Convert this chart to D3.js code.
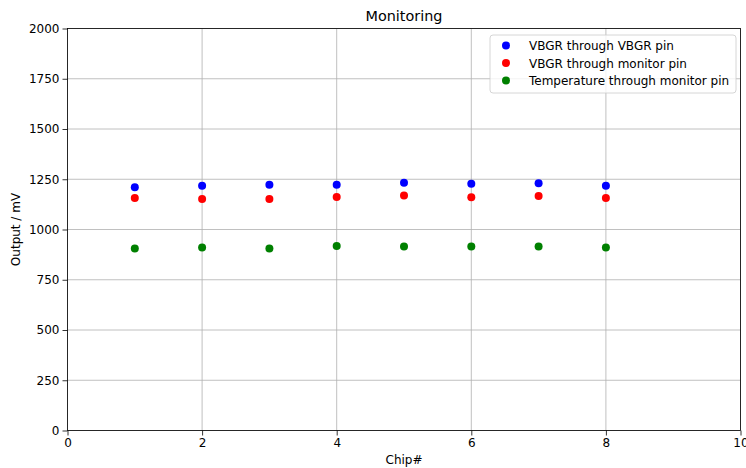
<!DOCTYPE html>
<html>
<head>
<meta charset="utf-8">
<script src="https://cdn.jsdelivr.net/npm/d3@7"></script>
<style>
body { margin: 0; background: #fff; }
svg { font-family: "DejaVu Sans", sans-serif; }
</style>
</head>
<body>
<script>
// данные
const chips = [1, 2, 3, 4, 5, 6, 7, 8];
const vbgr_pin = [1210, 1218, 1223, 1223, 1232, 1227, 1230, 1218];
const vbgr_monitor = [1157, 1152, 1152, 1162, 1169, 1160, 1167, 1157];
const temp_monitor = [905, 910, 905, 918, 915, 915, 915, 910];
const series_names = ["VBGR through VBGR pin", "VBGR through monitor pin", "Temperature through monitor pin"];
const series_colors = ["blue", "red", "green"];
const x_ticks = [0, 2, 4, 6, 8, 10];
const y_ticks = [0, 250, 500, 750, 1000, 1250, 1500, 1750, 2000];

const width = 746, height = 468;
// границы области графика (top занято window.top, поэтому plot_*)
const plot_left = 67.5, plot_right = 740.5, plot_top = 28.5, plot_bottom = 430.5;

var svg = d3.select("body").append("svg")
    .attr("width", width)
    .attr("height", height);

var x_scale = d3.scaleLinear().domain([0, 10]).range([plot_left, plot_right]);
var y_scale = d3.scaleLinear().domain([0, 2000]).range([plot_bottom, plot_top]);

// сетка
svg.append("g")
    .selectAll("line")
    .data(x_ticks)
    .enter()
    .append("line")
    .attr("x1", function(d) { return x_scale(d); })
    .attr("x2", function(d) { return x_scale(d); })
    .attr("y1", plot_top)
    .attr("y2", plot_bottom)
    .attr("stroke", "#b0b0b0")
    .attr("stroke-width", 0.8);
svg.append("g")
    .selectAll("line")
    .data(y_ticks)
    .enter()
    .append("line")
    .attr("x1", plot_left)
    .attr("x2", plot_right)
    .attr("y1", function(d) { return y_scale(d); })
    .attr("y2", function(d) { return y_scale(d); })
    .attr("stroke", "#b0b0b0")
    .attr("stroke-width", 0.8);

// точки
var all_series = [vbgr_pin, vbgr_monitor, temp_monitor];
all_series.forEach(function(values, i) {
    svg.append("g")
        .selectAll("circle")
        .data(values)
        .enter()
        .append("circle")
        .attr("cx", function(d, j) { return x_scale(chips[j]); })
        .attr("cy", function(d) { return y_scale(d); })
        .attr("r", 4)
        .attr("fill", series_colors[i]);
});

// оси
var x_axis = svg.append("g")
    .attr("transform", "translate(0," + plot_bottom + ")")
    .call(d3.axisBottom(x_scale).tickValues(x_ticks).tickFormat(d3.format("d")).tickSize(5).tickPadding(3));
var y_axis = svg.append("g")
    .attr("transform", "translate(" + plot_left + ",0)")
    .call(d3.axisLeft(y_scale).tickValues(y_ticks).tickFormat(d3.format("d")).tickSize(5).tickPadding(3));
[x_axis, y_axis].forEach(function(ax) {
    ax.selectAll("text").attr("font-size", 12).attr("fill", "#000").attr("font-family", "DejaVu Sans");
    ax.selectAll("line").attr("stroke", "#000").attr("stroke-width", 0.8);
    ax.select(".domain").remove();
});

// рамка
svg.append("rect")
    .attr("x", plot_left)
    .attr("y", plot_top)
    .attr("width", plot_right - plot_left)
    .attr("height", plot_bottom - plot_top)
    .attr("fill", "none")
    .attr("stroke", "#000")
    .attr("stroke-width", 0.8);

svg.append("text")
    .attr("x", (plot_left + plot_right) / 2)
    .attr("y", 21)
    .attr("text-anchor", "middle")
    .attr("font-size", 14.4)
    .text("Monitoring");
svg.append("text")
    .attr("x", (plot_left + plot_right) / 2)
    .attr("y", 464)
    .attr("text-anchor", "middle")
    .attr("font-size", 12)
    .text("Chip#");
svg.append("text")
    .attr("transform", "translate(20," + ((plot_top + plot_bottom) / 2) + ") rotate(-90)")
    .attr("text-anchor", "middle")
    .attr("font-size", 12)
    .text("Output / mV");

// легенда
var legend = svg.append("g").attr("transform", "translate(490,35)");
legend.append("rect")
    .attr("width", 246)
    .attr("height", 58)
    .attr("rx", 3)
    .attr("fill", "#fff")
    .attr("fill-opacity", 0.8)
    .attr("stroke", "#ccc")
    .attr("stroke-width", 0.8);
var rows = legend.selectAll("g.row")
    .data(series_names)
    .enter()
    .append("g")
    .attr("class", "row")
    .attr("transform", function(d, i) { return "translate(0," + (10.5 + i * 17.5) + ")"; });
rows.append("circle")
    .attr("cx", 16)
    .attr("cy", 0)
    .attr("r", 4)
    .attr("fill", function(d, i) { return series_colors[i]; });
rows.append("text")
    .attr("x", 39)
    .attr("y", 4.5)
    .attr("font-size", 12)
    .text(function(d) { return d; });
</script>
</body>
</html>
